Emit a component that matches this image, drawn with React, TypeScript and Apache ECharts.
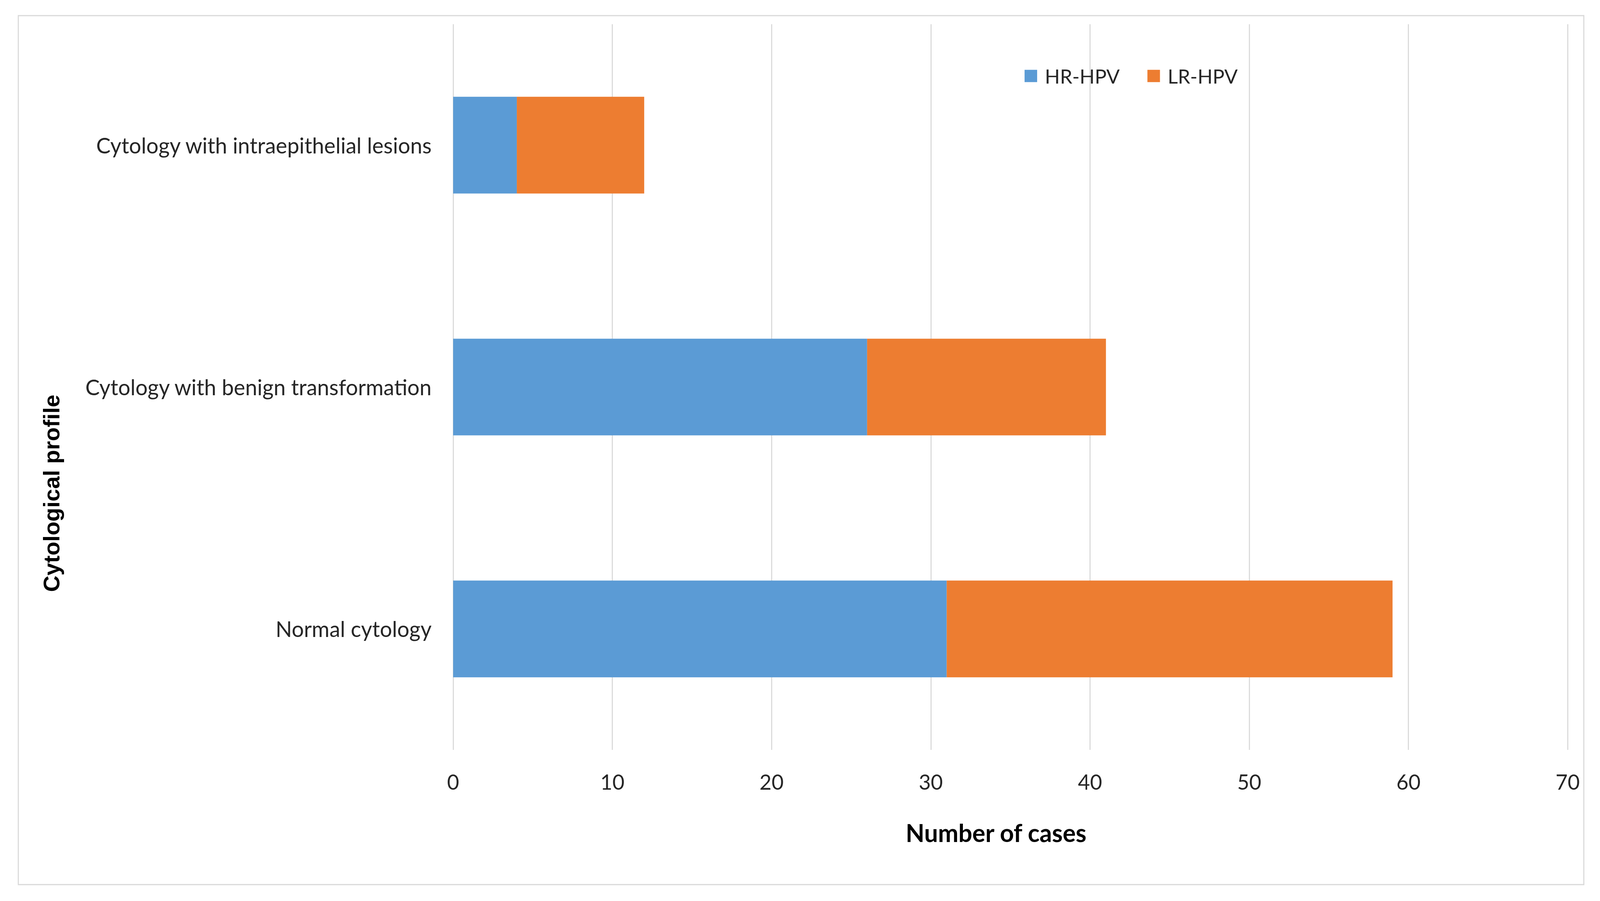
import React, { useEffect, useRef } from "react";
import * as echarts from "echarts";

const categories: string[] = [
  "Cytology with intraepithelial lesions",
  "Cytology with benign transformation",
  "Normal cytology",
];
const hrHpv: number[] = [4, 26, 31];
const lrHpv: number[] = [8, 15, 28];
const seriesNames: string[] = ["HR-HPV", "LR-HPV"];
const xTicks = { min: 0, max: 70, interval: 10 };

const REF_W = 4456;
const REF_H = 2307;
const FONT = "Lato, 'Open Sans', sans-serif";

export default function App() {
  const ref = useRef<HTMLDivElement>(null);
  useEffect(() => {
    document.body.style.margin = "0";
    document.body.style.overflow = "hidden";
    const el = ref.current!;
    const sx = el.clientWidth / REF_W;
    const sy = el.clientHeight / REF_H;
    const s = Math.min(sx, sy);
    const X = (v: number) => v * sx;
    const Y = (v: number) => v * sy;
    const F = (v: number) => v * s;
    const chart = echarts.init(el, null, { renderer: "svg" });
    chart.setOption({
      animation: false,
      backgroundColor: "#ffffff",
      textStyle: { fontFamily: FONT },
      graphic: [
        {
          type: "rect",
          shape: { x: X(51), y: Y(40), width: X(4360), height: Y(2225) },
          style: { fill: "none", stroke: "#D9D9D9", lineWidth: F(3) },
          silent: true,
          z: -10,
        },
      ],
      legend: {
        data: seriesNames,
        left: X(2848),
        top: Y(164),
        itemWidth: F(35),
        itemHeight: F(34),
        itemGap: X(77),
        icon: "rect",
        textStyle: {
          fontFamily: FONT,
          fontSize: F(55),
          color: "#262626",
          lineHeight: F(34),
          padding: [0, 0, 0, F(16)],
        },
      },
      grid: {
        left: X(1262),
        right: X(90),
        top: Y(62),
        bottom: Y(387),
        containLabel: false,
      },
      xAxis: {
        type: "value",
        min: xTicks.min,
        max: xTicks.max,
        interval: xTicks.interval,
        name: "Number of cases",
        nameLocation: "middle",
        nameGap: Y(180),
        nameTextStyle: {
          fontFamily: FONT,
          fontSize: F(68),
          fontWeight: "bold",
          color: "#000000",
          padding: [0, X(80), 0, 0],
        },
        axisLine: { show: false },
        axisTick: { show: false },
        axisLabel: { fontFamily: FONT, fontSize: F(58), color: "#262626", margin: Y(54) },
        splitLine: { show: true, lineStyle: { color: "#D9D9D9", width: F(3) } },
      },
      yAxis: {
        type: "category",
        data: categories,
        inverse: true,
        name: "Cytological profile",
        nameLocation: "middle",
        nameRotate: 90,
        nameGap: X(1087),
        nameTextStyle: {
          fontFamily: "'Liberation Sans', Arial, sans-serif",
          fontSize: F(63),
          fontWeight: "bold",
          color: "#000000",
          padding: [0, Y(544), 0, 0],
        },
        axisLine: { show: false },
        axisTick: { show: false },
        axisLabel: { fontFamily: FONT, fontSize: F(60), color: "#262626", margin: X(60) },
        splitLine: { show: false },
      },
      series: [
        {
          name: seriesNames[0],
          type: "bar",
          stack: "total",
          data: hrHpv,
          barWidth: "40%",
          itemStyle: { color: "#5B9BD5" },
        },
        {
          name: seriesNames[1],
          type: "bar",
          stack: "total",
          data: lrHpv,
          barWidth: "40%",
          itemStyle: { color: "#ED7D31" },
        },
      ],
    });
    return () => chart.dispose();
  }, []);
  return <div ref={ref} style={{ width: "100vw", height: "100vh" }} />;
}
